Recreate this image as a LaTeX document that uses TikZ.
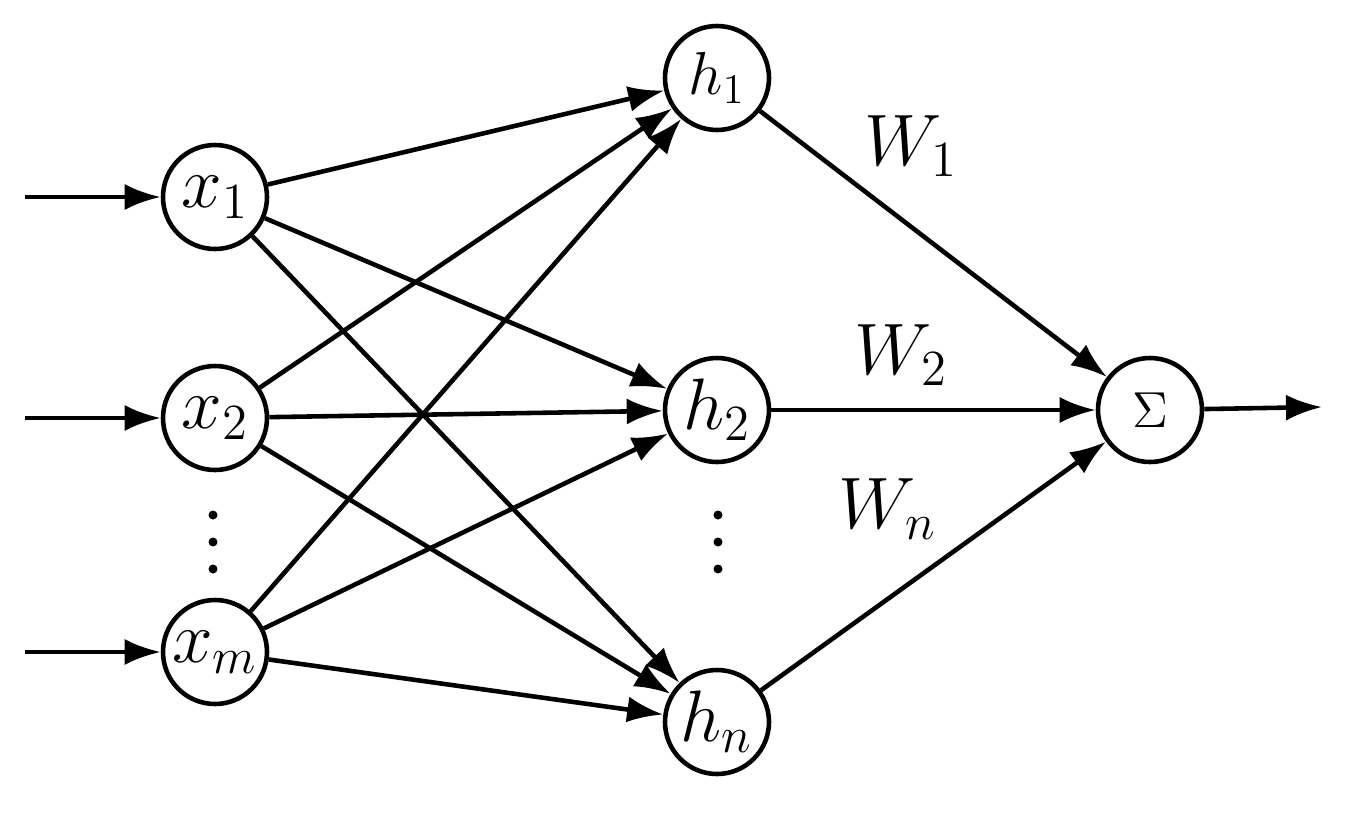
\documentclass[tikz,border=0pt]{standalone}
\usepackage{tikz}
\usetikzlibrary{arrows.meta}

\begin{document}
\begin{tikzpicture}

\tikzset{
    neuron/.style = {
    draw, line width=1.3pt, circle,
    minimum size=1.04cm, inner sep=0pt
    }
}

\tikzstyle{link}=[line width=1.3pt, -{Latex[length=3.6mm,width=2.6mm]}]
\tikzstyle{wlabel}=[font=\fontsize{20}{24}\selectfont]

\useasboundingbox (0,0) rectangle (13.53,8.13);

\node (x-1) [neuron] at (2.15,6.16) {\fontsize{20}{24}\selectfont $x_{\mathrm{1}}$};
\node (x-2) [neuron] at (2.15,3.95) {\fontsize{20}{24}\selectfont $x_{\mathrm{2}}$};
\node (x-m) [neuron] at (2.15,1.61) {\fontsize{20}{24}\selectfont $x_m$};

\node (h-1) [neuron] at (7.17,7.35) {\fontsize{17}{20}\selectfont $h_{\mathrm{1}}$};
\node (h-2) [neuron] at (7.17,4.03) {\fontsize{20}{24}\selectfont $h_{\mathrm{2}}$};
\node (h-n) [neuron] at (7.17,0.91) {\fontsize{20}{24}\selectfont $h_n$};

\node (sum) [neuron] at (11.50,4.03) {\Large $\Sigma$};

\coordinate (in-1) at (0.25,6.16);
\coordinate (in-2) at (0.25,3.95);
\coordinate (in-m) at (0.25,1.61);
\coordinate (out) at (13.22,4.06);

\draw[link] (in-1) -- (x-1);
\draw[link] (in-2) -- (x-2);
\draw[link] (in-m) -- (x-m);

\foreach \i in {1,2,m}
  \foreach \j in {1,2,n}
    \draw[link] (x-\i) -- (h-\j);

\draw[link] (h-1) -- node[wlabel, above right, pos=0.3, xshift=-4pt] {$W_{\mathrm{1}}$} (sum);
\draw[link] (h-2) -- node[wlabel, above, pos=0.4, yshift=3pt] {$W_{\mathrm{2}}$} (sum);
\draw[link] (h-n) -- node[wlabel, above left, pos=0.55] {$W_n$} (sum);
\draw[link] (sum) -- (out);

% dots
\foreach \x in {2.13,7.18}
  \foreach \y in {2.98,2.71,2.44}
    \fill (\x,\y) circle (0.045);

\end{tikzpicture}
\end{document}
